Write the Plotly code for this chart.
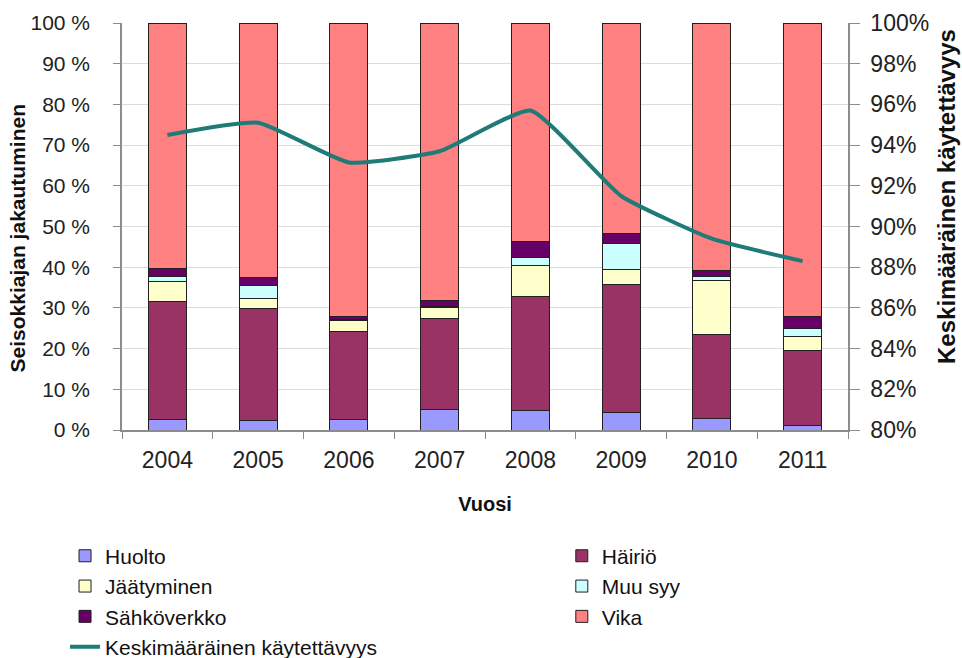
import plotly.graph_objects as go

# Vuodet
years = ["2004", "2005", "2006", "2007", "2008", "2009", "2010", "2011"]

# Seisokkiajan jakautuminen syittäin (% seisokkiajasta)
huolto = [2.5, 2.3, 2.7, 5.1, 4.7, 4.3, 2.9, 1.0]
hairio = [29.0, 27.6, 21.5, 22.3, 28.1, 31.5, 20.6, 18.5]
jaatyminen = [5.1, 2.5, 2.8, 2.7, 7.7, 3.7, 13.2, 3.4]
muu_syy = [1.1, 3.2, 0.1, 0.2, 1.8, 6.4, 1.1, 2.1]
sahkoverkko = [1.9, 1.8, 0.7, 1.6, 4.0, 2.4, 1.3, 2.8]
vika = [60.4, 62.6, 72.2, 68.1, 53.7, 51.7, 60.9, 72.2]

# Keskimääräinen käytettävyys (%)
kaytettavyys = [94.5, 95.1, 93.15, 93.7, 95.7, 91.5, 89.4, 88.3]

# Akselien asteikot ja niiden tekstit
left_ticks = [0, 10, 20, 30, 40, 50, 60, 70, 80, 90, 100]
left_tick_labels = ["0 %", "10 %", "20 %", "30 %", "40 %", "50 %",
                    "60 %", "70 %", "80 %", "90 %", "100 %"]
right_ticks = [80, 82, 84, 86, 88, 90, 92, 94, 96, 98, 100]
right_tick_labels = ["80%", "82%", "84%", "86%", "88%", "90%",
                     "92%", "94%", "96%", "98%", "100%"]

FONT = "Liberation Sans, Arial, sans-serif"
AXIS_GREY = "#8c8c8c"

series = [
    ("Huolto", huolto, "#9999FF", "legend"),
    ("Häiriö", hairio, "#993366", "legend2"),
    ("Jäätyminen", jaatyminen, "#FFFFCC", "legend"),
    ("Muu syy", muu_syy, "#CCFFFF", "legend2"),
    ("Sähköverkko", sahkoverkko, "#660066", "legend"),
    ("Vika", vika, "#FF8080", "legend2"),
]

fig = go.Figure()
for name, vals, color, leg in series:
    fig.add_trace(go.Bar(
        x=years, y=vals, name=name, legend=leg,
        marker=dict(color=color, line=dict(color="#202020", width=1)),
        hoverinfo="skip",
    ))

fig.add_trace(go.Scatter(
    x=years, y=kaytettavyys, name="Keskimääräinen käytettävyys",
    yaxis="y2", mode="lines", legend="legend",
    line=dict(color="#1E7B77", width=4, shape="spline", smoothing=0.45),
    hoverinfo="skip",
))

legend_common = dict(
    orientation="v", traceorder="normal", bgcolor="rgba(0,0,0,0)",
    font=dict(family=FONT, size=21, color="#111111"),
    xref="container", yref="container",
    xanchor="left", yanchor="top", itemwidth=30,
)

fig.update_layout(
    width=962, height=658,
    margin=dict(l=122, r=114, t=23, b=228, autoexpand=False),
    paper_bgcolor="white", plot_bgcolor="white",
    barmode="stack", bargap=0.58,
    font=dict(family=FONT, color="#222222"),
    xaxis=dict(
        type="category", automargin=False,
        showline=True, linecolor=AXIS_GREY, linewidth=1.5,
        ticks="outside", ticklen=7, tickcolor=AXIS_GREY, tickson="boundaries",
        ticklabelstandoff=9,
        tickfont=dict(size=23, color="#222222"),
        title=dict(text="<b>Vuosi</b>", font=dict(size=20, color="#111111"), standoff=25),
        showgrid=False,
    ),
    yaxis=dict(
        range=[0, 100], tickmode="array", tickvals=left_ticks, ticktext=left_tick_labels,
        automargin=False,
        showline=True, linecolor=AXIS_GREY, linewidth=1.5,
        ticks="outside", ticklen=7, tickcolor=AXIS_GREY,
        ticklabelstandoff=19,
        tickfont=dict(size=21, color="#222222"),
        showgrid=True, gridcolor="#dcdcdc", gridwidth=1,
        zeroline=False,
    ),
    yaxis2=dict(
        range=[80, 100], tickmode="array", tickvals=right_ticks, ticktext=right_tick_labels,
        overlaying="y", side="right", automargin=False,
        showline=True, linecolor=AXIS_GREY, linewidth=1.5,
        ticks="outside", ticklen=10, tickcolor=AXIS_GREY,
        ticklabelstandoff=6,
        tickfont=dict(size=23, color="#222222"),
        showgrid=False, zeroline=False,
    ),
    legend=dict(x=0.0676, y=0.186, **legend_common),
    legend2=dict(x=0.584, y=0.186, **legend_common),
    annotations=[
        dict(text="<b>Seisokkiajan jakautuminen</b>", textangle=-90,
             xref="paper", yref="paper", x=-0.125, y=0.47,
             xanchor="right", yanchor="middle", showarrow=False,
             font=dict(size=21, color="#111111")),
        dict(text="<b>Keskimääräinen käytettävyys</b>", textangle=-90,
             xref="paper", yref="paper", x=1.115, y=0.575,
             xanchor="left", yanchor="middle", showarrow=False,
             font=dict(size=24, color="#111111")),
    ],
    showlegend=True,
)

fig.write_html("out.html")
